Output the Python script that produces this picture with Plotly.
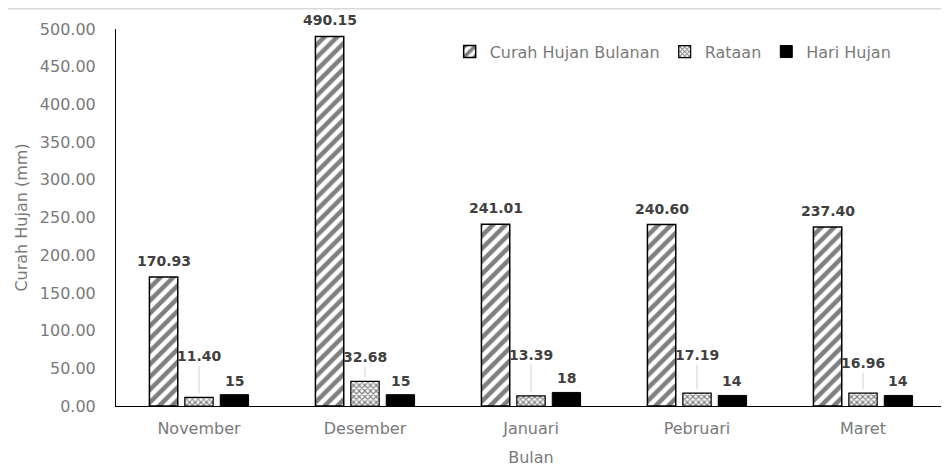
import plotly.graph_objects as go

months = ["November", "Desember", "Januari", "Pebruari", "Maret"]
curah_hujan = [170.93, 490.15, 241.01, 240.60, 237.40]
rataan = [11.40, 32.68, 13.39, 17.19, 16.96]
hari_hujan = [15, 15, 18, 14, 14]
y_ticks = [0, 50, 100, 150, 200, 250, 300, 350, 400, 450, 500]

# label offsets (pixels) for the Rataan callouts
rataan_label_offset = [-41, -24, -41, -38, -30]

FONT = "DejaVu Sans"
GRAY = "#7a7a7a"
LABEL = "#404040"
BARGAP = 0.36
slot = (1 - BARGAP) / 3

fig = go.Figure()
fig.add_bar(
    name="Curah Hujan Bulanan", x=months, y=curah_hujan,
    marker=dict(color="white", line=dict(color="black", width=1.5),
                pattern=dict(shape="/", fgcolor="black", bgcolor="white", size=9, solidity=0.5)),
)
fig.add_bar(
    name="Rataan", x=months, y=rataan,
    marker=dict(color="white", line=dict(color="black", width=1.2),
                pattern=dict(shape="x", fgcolor="black", bgcolor="white", size=4, solidity=0.5)),
)
fig.add_bar(
    name="Hari Hujan", x=months, y=hari_hujan,
    marker=dict(color="black", line=dict(color="black", width=1)),
)

annotations = []
for i, v in enumerate(curah_hujan):
    annotations.append(dict(x=i - slot, y=v, text=f"{v:.2f}", showarrow=False,
                            yanchor="bottom", yshift=6,
                            font=dict(family=FONT, size=14, color=LABEL, weight="bold")))
for i, v in enumerate(rataan):
    annotations.append(dict(x=i, y=v, text=f"{v:.2f}", showarrow=True, arrowhead=0,
                            arrowwidth=1, arrowcolor="#d0d0d0", ax=0, ay=rataan_label_offset[i],
                            standoff=4,
                            font=dict(family=FONT, size=14, color=LABEL, weight="bold")))
for i, v in enumerate(hari_hujan):
    annotations.append(dict(x=i + slot, y=v, text=f"{v}", showarrow=False,
                            yanchor="bottom", yshift=4,
                            font=dict(family=FONT, size=14, color=LABEL, weight="bold")))

fig.update_layout(
    width=949, height=467,
    margin=dict(l=108, r=11, t=21, b=69, autoexpand=False),
    paper_bgcolor="white", plot_bgcolor="white",
    barmode="group", bargap=BARGAP, bargroupgap=0.2,
    font=dict(family=FONT, size=16, color=GRAY),
    annotations=annotations,
    legend=dict(orientation="h", x=0.402, y=0.985, xanchor="left", yanchor="top",
                font=dict(family=FONT, size=16, color=GRAY), bgcolor="rgba(0,0,0,0)",
                itemwidth=30, traceorder="normal"),
    shapes=[dict(type="line", xref="paper", yref="paper", x0=-0.15, x1=1.02, y0=1.054, y1=1.054,
                 line=dict(color="#d9d9d9", width=1.5))],
)
fig.update_xaxes(
    showline=True, linecolor="black", linewidth=1, showgrid=False, ticks="", automargin=False,
    title=dict(text="Bulan", font=dict(family=FONT, size=16, color=GRAY), standoff=14),
    tickfont=dict(family=FONT, size=16, color=GRAY), ticklabelstandoff=8,
)
fig.update_yaxes(
    range=[0, 500], tickvals=y_ticks, tickformat=".2f", automargin=False,
    showline=True, linecolor="black", linewidth=1, showgrid=False, ticks="", zeroline=False,
    title=dict(text="Curah Hujan (mm)", font=dict(family=FONT, size=16, color=GRAY), standoff=8),
    tickfont=dict(family=FONT, size=16, color=GRAY), ticklabelstandoff=16,
)

fig.write_html("out.html")
